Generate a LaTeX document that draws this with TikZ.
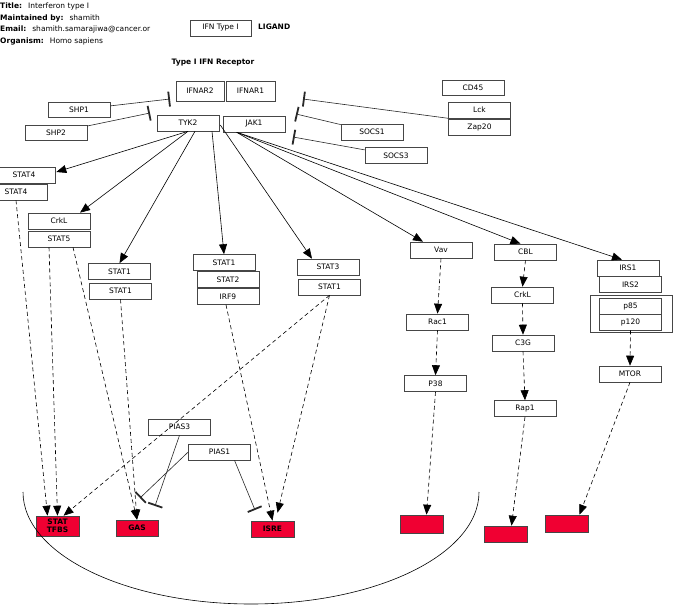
\documentclass[tikz,border=0pt]{standalone}
\usepackage{fontspec}
\setmainfont{DejaVu Sans}
\usepackage{tikz}
\usetikzlibrary{arrows.meta, positioning, calc}
\definecolor{sitered}{RGB}{240,0,50}
\definecolor{mydark}{RGB}{40,40,40}
\definecolor{mygray}{RGB}{70,70,70}
\tikzset{
  gene/.style={rectangle, draw=mygray, fill=white, line width=0.6pt,
    minimum width=62pt, minimum height=16pt, inner sep=0pt,
    font=\fontsize{7.5}{9}\selectfont},
  site/.style={rectangle, draw=mygray, fill=sitered, line width=0.6pt,
    minimum width=43pt, minimum height=17pt, inner sep=0pt, align=center,
    font=\fontsize{7.5}{8}\selectfont\bfseries},
  info/.style={anchor=west, inner sep=0pt, font=\fontsize{7.5}{9}\selectfont},
  heading/.style={inner sep=0pt, font=\fontsize{7.5}{9}\selectfont\bfseries},
  arrow/.style={-{Triangle[length=10pt,width=8pt]}, line width=0.6pt, color=black},
  dasharrow/.style={arrow, dash pattern=on 4pt off 3pt},
  inhibit/.style={-{Bar[width=15pt,line width=1.8pt]}, line width=0.6pt, color=mydark}
}
\begin{document}
\begin{tikzpicture}[x=1pt, y=-1pt]
  \useasboundingbox (0,0) rectangle (695,615);
  \clip (0,0) rectangle (695,615);
  % header
  \node[info] (title) at (0,6) {\textbf{Title:}\hspace{6pt}Interferon type I};
  \node[info] (maint) at (0,18) {\textbf{Maintained by:}\hspace{6pt}shamith};
  \node[info] (email) at (0,29.5) {\textbf{Email:}\hspace{6pt}shamith.samarajiwa@cancer.or};
  \node[info] (organism) at (0,41) {\textbf{Organism:}\hspace{6pt}Homo sapiens};
  \node[gene, minimum width=61pt] (ifn) at (220.5,28) {IFN Type I};
  \node[heading, anchor=west] (ligand) at (258,27) {LIGAND};
  \node[heading] (receptor) at (213,63) {Type I IFN Receptor};

  % receptor complex
  \node[gene, minimum width=48pt, minimum height=20pt] (ifnar2) at (200,91) {IFNAR2};
  \node[gene, minimum width=49pt, minimum height=20pt] (ifnar1) at (250.5,91) {IFNAR1};
  \node[gene] (tyk2) at (188,123) {TYK2};
  \node[gene] (jak1) at (254,124) {JAK1};

  % regulators
  \node[gene, minimum height=15pt] (shp1) at (79,109.5) {SHP1};
  \node[gene, minimum height=15pt] (shp2) at (56,132.5) {SHP2};
  \node[gene, minimum height=15pt] (cd45) at (473,87.5) {CD45};
  \node[gene] (lck) at (479.5,110) {Lck};
  \node[gene] (zap20) at (479.5,127.5) {Zap20};
  \node[gene] (socs1) at (372,132) {SOCS1};
  \node[gene] (socs3) at (396,155.5) {SOCS3};

  % inhibition bars
  \coordinate (shp1bar) at (170,99);
  \coordinate (shp2bar) at (150,113);
  \coordinate (lckbar) at (303,99);
  \coordinate (socs1bar) at (296,114);
  \coordinate (socs3bar) at (293,137);
  \draw[inhibit] (shp1) -- (shp1bar);
  \draw[inhibit] (shp2) -- (shp2bar);
  \draw[inhibit] (lck.south west) -- (lckbar);
  \draw[inhibit] (socs1) -- (socs1bar);
  \draw[inhibit] (socs3) -- (socs3bar);

  % STATs
  \node[gene] (stat4a) at (24,175) {STAT4};
  \node[gene] (stat4b) at (16,192) {STAT4};
  \node[gene] (crkl) at (59,221) {CrkL};
  \node[gene] (stat5) at (59,239) {STAT5};
  \node[gene] (stat1a) at (119.5,271.5) {STAT1};
  \node[gene] (stat1d) at (120.5,291) {STAT1};
  \node[gene] (stat1b) at (224,262.5) {STAT1};
  \node[gene] (stat2) at (228,279.5) {STAT2};
  \node[gene] (irf9) at (228,296.5) {IRF9};
  \node[gene] (stat3) at (328,267) {STAT3};
  \node[gene] (stat1c) at (329.5,287) {STAT1};

  % other branches
  \node[gene] (vav) at (441,250) {Vav};
  \node[gene] (cbl) at (525.5,252) {CBL};
  \node[gene] (irs1) at (628,268) {IRS1};
  \node[gene] (irs2) at (630.5,284.5) {IRS2};
  \draw[mygray, line width=0.6pt] (590,295) rectangle (672,332);
  \node[gene] (p85) at (630.5,306) {p85};
  \node[gene] (p120) at (630.5,322) {p120};
  \node[gene] (rac1) at (437.5,322) {Rac1};
  \node[gene] (crkl2) at (522.5,295) {CrkL};
  \node[gene] (c3g) at (523,343) {C3G};
  \node[gene] (p38) at (435.5,383.5) {P38};
  \node[gene] (rap1) at (525,408.5) {Rap1};
  \node[gene] (mtor) at (630,374) {MTOR};

  % binding sites
  \node[site, minimum height=20pt] (tfbs) at (57.5,526) {STAT\\TFBS};
  \node[site, minimum width=42pt, minimum height=16pt] (gas) at (137,528) {GAS};
  \node[site, minimum height=16pt] (isre) at (272.5,529) {ISRE};
  \node[site, minimum height=18pt] (site1) at (421.5,524) {};
  \node[site, minimum height=16pt] (site2) at (505.5,534) {};
  \node[site] (site3) at (566.5,523.5) {};

  % PIAS
  \node[gene] (pias3) at (179.5,427) {PIAS3};
  \node[gene] (pias1) at (219.5,452) {PIAS1};
  \coordinate (pias3bar) at (155,506);
  \coordinate (pias1bar) at (140,498);
  \coordinate (isrebar) at (255,510);
  \draw[inhibit] (pias3.south) -- (pias3bar);
  \draw[inhibit] (pias1.west) -- (pias1bar);
  \draw[inhibit] ($(pias1.south)+(15,0)$) -- (isrebar);

  % kinase arrows
  \draw[arrow] (tyk2.south) -- ($(stat4a.east)+(1,-3)$);
  \draw[arrow] (tyk2.south) -- ($(crkl.north)+(21,0)$);
  \draw[arrow] ($(tyk2.south)+(7,0)$) -- (stat1a.north);
  \draw[arrow] ($(tyk2.south)+(24,0)$) -- (stat1b.north);
  \draw[arrow] ($(tyk2.east)+(1,2)$) -- ($(stat3.north)+(-16,0)$);
  \draw[arrow] ($(jak1.south west)+(14,0)$) -- ($(vav.north)+(-18,0)$);
  \draw[arrow] ($(jak1.south west)+(14,0)$) -- ($(cbl.north)+(-5,0)$);
  \draw[arrow] ($(jak1.south west)+(14,0)$) -- ($(irs1.north)+(-6,0)$);

  % downstream
  \draw[dasharrow] (vav.south) -- (rac1.north);
  \draw[dasharrow] (rac1.south) -- (p38.north);
  \draw[dasharrow] (p38.south) -- ($(site1.north)+(5,0)$);
  \draw[dasharrow] (cbl.south) -- (crkl2.north);
  \draw[dasharrow] (crkl2.south) -- (c3g.north);
  \draw[dasharrow] (c3g.south) -- (rap1.north);
  \draw[dasharrow] (rap1.south) -- ($(site2.north)+(6,0)$);
  \draw[dasharrow] (p120.south) -- (mtor.north);
  \draw[dasharrow] (mtor.south) -- ($(site3.north)+(13,0)$);

  % to promoter sites
  \draw[dasharrow] (stat4b.south) -- ($(tfbs.north)+(-10,0)$);
  \draw[dasharrow] ($(stat5.south)+(-10,0)$) -- (tfbs.north);
  \draw[dasharrow] ($(stat5.south)+(14,0)$) -- (gas.north);
  \draw[dasharrow] (stat1d.south) -- (gas.north);
  \draw[dasharrow] ($(irf9.south)+(-2,0)$) -- (isre.north);
  \draw[dasharrow] (stat1c.south) -- ($(isre.north)+(5,-8)$);
  \draw[dasharrow] (stat1c.south) -- ($(tfbs.north)+(6,0)$);

  % nucleus
  \draw[line width=0.6pt] (23,492) .. controls (23,554) and (125,604) .. (251,604)
    .. controls (377,604) and (479,554) .. (479,492);
\end{tikzpicture}
\end{document}
